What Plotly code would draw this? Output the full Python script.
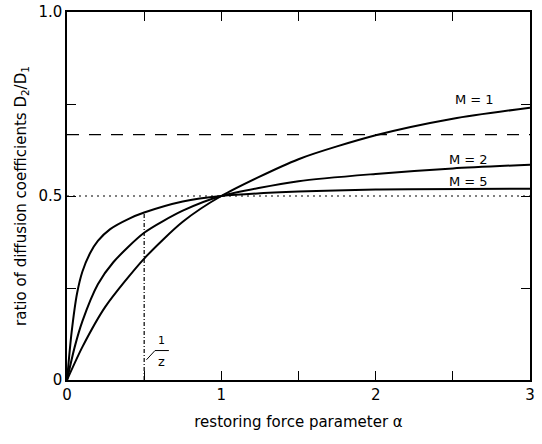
import plotly.graph_objects as go

# Data
alpha_m1 = [0, 0.1, 0.25, 0.5, 0.75, 1.0, 1.5, 2.0, 2.5, 3.0]
ratio_m1 = [0, 0.09, 0.20, 0.33, 0.43, 0.50, 0.60, 0.665, 0.71, 0.74]

alpha_m2 = [0, 0.05, 0.1, 0.2, 0.3, 0.5, 0.75, 1.0, 1.5, 2.0, 2.5, 3.0]
ratio_m2 = [0, 0.09, 0.16, 0.26, 0.32, 0.40, 0.46, 0.50, 0.54, 0.56, 0.575, 0.585]

alpha_m5 = [0, 0.03, 0.065, 0.1, 0.15, 0.2, 0.28, 0.4, 0.5, 0.75, 1.0, 1.5, 2.0, 3.0]
ratio_m5 = [0, 0.13, 0.235, 0.295, 0.345, 0.378, 0.41, 0.438, 0.455, 0.485, 0.50, 0.512, 0.518, 0.52]

asymptote_m2 = 2 / 3
half_level = 0.5
half_alpha = 0.5

x_ticks = [0, 1, 2, 3]
x_ticktext = ["0", "1", "2", "3"]
y_ticks = [0, 0.5, 1.0]
y_ticktext = ["0", "0.5", "1.0"]

labels = ["M = 1", "M = 2", "M = 5"]
label_pos = [(2.64, 0.762), (2.6, 0.6), (2.6, 0.54)]

FONT = "DejaVu Sans"

fig = go.Figure()
line = dict(color="black", width=2, shape="spline", smoothing=0.7)
for xs, ys in [(alpha_m1, ratio_m1), (alpha_m2, ratio_m2), (alpha_m5, ratio_m5)]:
    fig.add_trace(go.Scatter(x=xs, y=ys, mode="lines", line=line, showlegend=False))

# dashed asymptote
fig.add_trace(go.Scatter(x=[0, 3], y=[asymptote_m2, asymptote_m2], mode="lines",
                         line=dict(color="black", width=1.3, dash="12px,10px"), showlegend=False))
# dotted 0.5 level
fig.add_trace(go.Scatter(x=[0, 3], y=[half_level, half_level], mode="lines",
                         line=dict(color="black", width=1.2, dash="2px,4px"), showlegend=False))
# dash-dot vertical at alpha = 1/2
fig.add_trace(go.Scatter(x=[half_alpha, half_alpha], y=[0, 0.455], mode="lines",
                         line=dict(color="black", width=1.2, dash="4px,2px,1px,2px"), showlegend=False))
# leader line of 1/2 label
fig.add_trace(go.Scatter(x=[0.515, 0.57, 0.66], y=[0.055, 0.08, 0.08], mode="lines",
                         line=dict(color="black", width=1), showlegend=False))

for t, (lx, ly) in zip(labels, label_pos):
    fig.add_annotation(x=lx, y=ly, text=t, showarrow=False,
                       font=dict(family=FONT, size=13, color="black"))

fig.add_annotation(x=0.615, y=0.108, text="1", showarrow=False,
                   font=dict(family=FONT, size=11, color="black"))
fig.add_annotation(x=0.615, y=0.05, text="z", showarrow=False,
                   font=dict(family=FONT, size=13, color="black"))

axis_common = dict(showline=True, linecolor="black", linewidth=1.5, mirror="ticks",
                   ticks="inside", ticklen=9, tickwidth=1.3, tickcolor="black",
                   showgrid=False, zeroline=False, automargin=False,
                   ticklabeloverflow="allow",
                   tickfont=dict(family=FONT, size=15, color="black"))

fig.update_xaxes(range=[0, 3], tickvals=x_ticks, ticktext=x_ticktext,
                 minor=dict(dtick=0.5, tick0=0, ticks="inside", ticklen=9, tickwidth=1.3,
                            tickcolor="black", showgrid=False),
                 title=dict(text="restoring force parameter α", font=dict(family=FONT, size=15, color="black"),
                            standoff=14),
                 **axis_common)
fig.update_yaxes(range=[0, 1.0], tickvals=y_ticks, ticktext=y_ticktext,
                 minor=dict(dtick=0.25, tick0=0, ticks="inside", ticklen=9, tickwidth=1.3,
                            tickcolor="black", showgrid=False),
                 title=dict(text="ratio of diffusion coefficients D<sub>2</sub>/D<sub>1</sub>",
                            font=dict(family=FONT, size=15, color="black"), standoff=8),
                 **axis_common)

fig.update_layout(width=542, height=444, margin=dict(l=67, r=12, t=12, b=64),
                  plot_bgcolor="white", paper_bgcolor="white")

fig.write_html("out.html", config={"displayModeBar": False},
               post_script="document.body.style.margin = '0';")
